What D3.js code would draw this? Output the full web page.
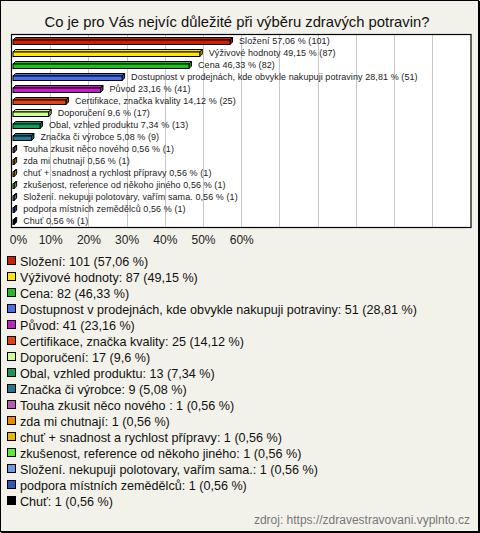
<!DOCTYPE html>
<html><head><meta charset="utf-8">
<script src="https://cdn.jsdelivr.net/npm/d3@7"></script>
<style>html,body{margin:0;padding:0;background:#f3f2ea;}svg{display:block;}</style>
</head><body><svg id="c" width="480" height="533"></svg>
<script>
const categories = ["Složení","Výživové hodnoty","Cena","Dostupnost v prodejnách, kde obvykle nakupuji potraviny","Původ","Certifikace, značka kvality","Doporučení","Obal, vzhled produktu","Značka či výrobce","Touha zkusit něco nového ","zda mi chutnají","chuť + snadnost a rychlost přípravy","zkušenost, reference od někoho jiného","Složení. nekupuji polotovary, vařím sama.","podpora místních zemědělců","Chuť"];
const counts = [101,87,82,51,41,25,17,13,9,1,1,1,1,1,1,1];
const percents = [57.06,49.15,46.33,28.81,23.16,14.12,9.6,7.34,5.08,0.56,0.56,0.56,0.56,0.56,0.56,0.56];
const colors = ["#cc2200","#ffe600","#1fbf1f","#4a6ee8","#c41fc4","#e0450f","#ccff8c","#129a5a","#23788f","#b95ab9","#ee8800","#e8b800","#55ee33","#6e98e6","#3455b8","#000000"];
const tickValues = [0,10,20,30,40,50,60,70,80,90,100,110];
const tickLabels = ["0%","10%","20%","30%","40%","50%","60%"];
const title = "Co je pro Vás nejvíc důležité při výběru zdravých potravin?";
const source = "zdroj: https://zdravestravovani.vyplnto.cz";

(function(){
const fmt = v => String(v).replace(".", ",");
const svg = d3.select("#c");
const W = 480, H = 533;
svg.append("rect").attr("x",0.5).attr("y",0.5).attr("width",W-2).attr("height",H-2)
  .attr("fill","#f3f2ea").attr("stroke","#000").attr("stroke-width",1);
svg.append("line").attr("x1",W-0.5).attr("x2",W-0.5).attr("y1",1).attr("y2",H).attr("stroke","#000");
svg.append("line").attr("x1",1).attr("x2",W).attr("y1",H-0.5).attr("y2",H-0.5).attr("stroke","#000");

svg.append("text").attr("x",237).attr("y",27).attr("text-anchor","middle")
  .attr("font-family","Liberation Sans, Arial, sans-serif").attr("font-size",14.8).attr("fill","#111").text(title);

const pL = 12, pR = 470.5, pT = 35, pB = 227;
const x = d3.scaleLinear().domain([0,120]).range([pL,pR]);
const y = d3.scaleBand().domain(categories).range([pT,pB]).padding(0);

svg.append("rect").attr("x",pL-0.5).attr("y",pT-0.5).attr("width",pR-pL+1).attr("height",pB-pT+1)
  .attr("fill","#fff").attr("stroke","none");

svg.append("g").selectAll("line").data(tickValues.filter(v=>v>0)).join("line")
  .attr("x1",d=>Math.round(x(d))+0.5).attr("x2",d=>Math.round(x(d))+0.5)
  .attr("y1",pT).attr("y2",pB).attr("stroke","#c8c8c8");

const axis = d3.axisBottom(x).tickValues(tickValues.slice(0,tickLabels.length))
  .tickFormat((d,i)=>tickLabels[i]).tickSize(0).tickPadding(0);
const ag = svg.append("g").attr("transform",`translate(0,${pB+13})`).call(axis);
ag.select(".domain").remove();
ag.selectAll("text").attr("font-family","Liberation Sans, Arial, sans-serif").attr("font-size",12)
  .attr("fill","#222").attr("dy","0.35em").attr("y",0);
ag.selectAll(".tick").filter(d=>d===0).select("text").attr("x",6);

const d3d = 2.5;
const data = categories.map((c,i)=>({c, n:counts[i], p:percents[i], col:colors[i]}));
const bars = svg.append("g").selectAll("g").data(data).join("g");
bars.each(function(d){
  const g = d3.select(this);
  const cy = y(d.c) + y.bandwidth()/2;
  const x0 = x(0)+1, x1 = x(d.p);
  const yt = cy - 1, yb = cy + 3.5;
  const dark = d3.color(d.col).darker(0.8);
  g.append("path").attr("d",`M${x0},${yt}L${x0+d3d},${yt-d3d}L${x1+d3d},${yt-d3d}L${x1},${yt}Z`)
    .attr("fill",d.col).attr("stroke","#000").attr("stroke-width",1).attr("stroke-linejoin","round");
  g.append("path").attr("d",`M${x1},${yt}L${x1+d3d},${yt-d3d}L${x1+d3d},${yb-d3d}L${x1},${yb}Z`)
    .attr("fill",dark).attr("stroke","#000").attr("stroke-width",1);
  g.append("rect").attr("x",x0).attr("y",yt).attr("width",Math.max(0,x1-x0)).attr("height",yb-yt)
    .attr("fill",d.col).attr("stroke","#000").attr("stroke-width",1);
  g.append("text").attr("x",x1+9).attr("y",cy).attr("dy","0.35em")
    .attr("font-family","Liberation Sans, Arial, sans-serif").attr("font-size",9).attr("letter-spacing",0.08).attr("fill","#222")
    .text(`${d.c} ${fmt(d.p)} % (${d.n})`);
});

svg.append("rect").attr("x",pL-0.5).attr("y",pT-0.5).attr("width",pR-pL+1).attr("height",pB-pT+1)
  .attr("fill","none").attr("stroke","#000").attr("stroke-width",1.2);

const lg = svg.append("g").selectAll("g").data(data).join("g")
  .attr("transform",(d,i)=>`translate(0,${261+i*16})`);
lg.append("rect").attr("x",7.5).attr("y",-4.5).attr("width",8).attr("height",8)
  .attr("fill",d=>d.col).attr("stroke","#000").attr("stroke-width",1);
lg.append("text").attr("x",20).attr("y",0).attr("dy","0.36em")
  .attr("font-family","Liberation Sans, Arial, sans-serif").attr("font-size",12.6).attr("fill","#111")
  .text(d=>`${d.c}: ${d.n} (${fmt(d.p)} %)`);

svg.append("text").attr("x",470).attr("y",520).attr("dy","0.35em").attr("text-anchor","end")
  .attr("font-family","Liberation Sans, Arial, sans-serif").attr("font-size",12).attr("fill","#777").text(source);
})();
</script></body></html>
